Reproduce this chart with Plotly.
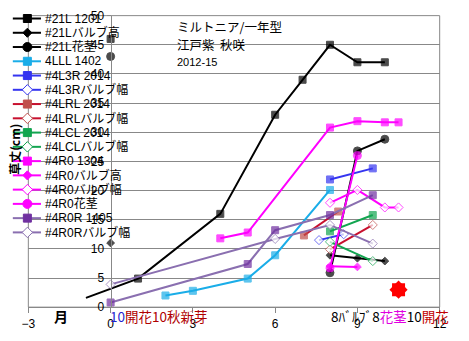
import plotly.graph_objects as go

# ---------------- data ----------------
x_21L_1201 = [0, None, -0.9, 1, 4, 6, 7, 8, 9, 10]
y_21L_1201 = [46, None, 1.6, 4.9, 16, 33, 39, 45, 42, 42]
x_21L_bulb_h = [0, None, 8, 9, 10]
y_21L_bulb_h = [11, None, 8.9, 8.4, 7.9]
x_21L_stem = [0, None, 8, 9, 10]
y_21L_stem = [43, None, 5.9, 26.8, 28.8]
x_4LLL_1402 = [2, 3, 5, 6, 8]
y_4LLL_1402 = [2.0, 2.8, 4.9, 8.9, 20.1]
x_4L3R_2014 = [8, 9.56]
y_4L3R_2014 = [21.9, 23.8]
x_4L3R_bulb_w = [7.6, 8.5]
y_4L3R_bulb_w = [11.5, 12.5]
x_4LRL_2014 = [7.05, 8.3]
y_4LRL_2014 = [12.3, 16.4]
x_4LRL_bulb_w = [8, 9.56]
y_4LRL_bulb_w = [9.9, 14.1]
x_4LCL_2014 = [8, 9.56]
y_4LCL_2014 = [13.0, 15.8]
x_4LCL_bulb_w = [8, 9.56]
y_4LCL_bulb_w = [11.2, 7.9]
x_4R0_1304 = [4, 5, 8, 9, 10, 10.5]
y_4R0_1304 = [11.8, 12.8, 30.8, 31.9, 31.7, 31.7]
x_4R0_bulb_h = [8, 9]
y_4R0_bulb_h = [7.0, 6.9]
x_4R0_bulb_w = [8, 9, 10, 10.5]
y_4R0_bulb_w = [17.9, 20.1, 17.1, 17.1]
x_4R0_stem = [8, 9]
y_4R0_stem = [6.7, 26.0]
x_4R0R_1405 = [0, 5, 6, 8, 9.56]
y_4R0R_1405 = [0.8, 7.4, 13.2, 15.8, 19.2]
x_4R0R_bulb_w = [0, 6, 8, 9.56]
y_4R0R_bulb_w = [3.9, 11.7, 14.1, 10.9]
x_flower = [10.5]
y_flower = [3.0]

x_ticks = [-3, 0, 3, 6, 9, 12]
y_ticks = [0, 5, 10, 15, 20, 25, 30, 35, 40, 45, 50]

names = ["#21L 1201", "#21Lバルブ高", "#21L花茎", "4LLL 1402", "#4L3R 2014",
         "#4L3Rバルブ幅", "#4LRL 2014", "#4LRLバルブ幅", "#4LCL 2014", "#4LCLバルブ幅",
         "#4R0 1304", "#4R0バルブ高", "#4R0バルブ幅", "#4R0花茎", "#4R0R 1405",
         "#4R0Rバルブ幅"]

# ---------------- styles ----------------
SQ = ("square", 7)
SD = ("diamond", 6)
CI = ("circle", 8)
OD = ("diamond", 7)
series = [
    (x_21L_1201, y_21L_1201, "#000000", "#000000", SQ, False),
    (x_21L_bulb_h, y_21L_bulb_h, "#000000", "#000000", SD, False),
    (x_21L_stem, y_21L_stem, "#000000", "#000000", CI, False),
    (x_4LLL_1402, y_4LLL_1402, "#1AADE8", "#1AADE8", SQ, False),
    (x_4L3R_2014, y_4L3R_2014, "#3535F0", "#3535F0", SQ, False),
    (x_4L3R_bulb_w, y_4L3R_bulb_w, "#3535F0", "#3535F0", OD, True),
    (x_4LRL_2014, y_4LRL_2014, "#C8102E", "#C0504D", SQ, False),
    (x_4LRL_bulb_w, y_4LRL_bulb_w, "#C8102E", "#C0504D", OD, True),
    (x_4LCL_2014, y_4LCL_2014, "#12A550", "#12A550", SQ, False),
    (x_4LCL_bulb_w, y_4LCL_bulb_w, "#12A550", "#12A550", OD, True),
    (x_4R0_1304, y_4R0_1304, "#FF00FF", "#FF00FF", SQ, False),
    (x_4R0_bulb_h, y_4R0_bulb_h, "#FF00FF", "#FF00FF", SD, False),
    (x_4R0_bulb_w, y_4R0_bulb_w, "#FF00FF", "#FF00FF", OD, True),
    (x_4R0_stem, y_4R0_stem, "#FF00FF", "#FF00FF", CI, False),
    (x_4R0R_1405, y_4R0R_1405, "#8A6FB0", "#7030A0", SQ, False),
    (x_4R0R_bulb_w, y_4R0R_bulb_w, "#8A6FB0", "#8A6FB0", OD, True),
]

W, H = 469, 341
PL, PR, PT, PB = 22, 446, 9, 313
GRID = "#888888"
FONT = "Liberation Sans, Noto Sans CJK JP, sans-serif"
CJK = "Noto Sans CJK JP, sans-serif"

fig = go.Figure()

for i, (xs, ys, lc, mc, (sym, sz), hollow) in enumerate(series):
    sizes = [sz] * len(xs)
    if i == 0:
        sizes[2] = 0  # unmarked start of the line
    fig.add_trace(go.Scatter(
        x=xs, y=ys, mode="lines+markers", showlegend=False,
        line=dict(color=lc, width=2),
        marker=dict(symbol=sym, size=sizes,
                    color="white" if hollow else mc,
                    line=dict(color=mc, width=1)),
        connectgaps=False, xaxis="x", yaxis="y", hoverinfo="skip"))

# flowering mark (8-pointed star from square + diamond)
for sym, sz in (("square", 13), ("diamond", 14), ("circle", 13)):
    fig.add_trace(go.Scatter(x=x_flower, y=y_flower, mode="markers", showlegend=False,
                             marker=dict(symbol=sym, size=sz, color="#FF0000",
                                         line=dict(width=0)),
                             xaxis="x", yaxis="y", hoverinfo="skip"))

# ---------------- custom legend (pixel overlay axes) ----------------
row0, step = 12, 14.87
annotations = []
for i, (xs, ys, lc, mc, (sym, sz), hollow) in enumerate(series):
    ry = row0 + i * step
    fig.add_trace(go.Scatter(x=[6, 35], y=[ry, ry], mode="lines", showlegend=False,
                             line=dict(color=lc, width=2), xaxis="x2", yaxis="y2",
                             hoverinfo="skip"))
    fig.add_trace(go.Scatter(x=[21], y=[ry], mode="markers", showlegend=False,
                             marker=dict(symbol=sym, size=sz + 1,
                                         color="white" if hollow else mc,
                                         line=dict(color=mc, width=1)),
                             xaxis="x2", yaxis="y2", hoverinfo="skip"))
    annotations.append(dict(x=37, y=ry, xref="x2", yref="y2", text=names[i],
                            showarrow=False, xanchor="left", yanchor="middle",
                            font=dict(size=12, color="#000000", family=FONT)))

# titles and labels
annotations += [
    dict(x=173, y=20, text="ミルトニア/一年型", font=dict(size=12.5, family=CJK)),
    dict(x=173, y=39, text="江戸紫  秋咲", font=dict(size=12.5, family=CJK)),
    dict(x=173, y=57, text="2012-15", font=dict(size=11, family=FONT)),
    dict(x=46, y=322, text="<b>月</b>", font=dict(size=14, family=CJK)),
    dict(x=104, y=322,
         text="<span style='color:#1F1FD0'>10</span><span style='color:#B00000'>開花10秋新芽</span>",
         font=dict(size=13.5, family=CJK)),
    dict(x=332, y=322,
         text="8ﾊﾞﾙﾌﾞ8<span style='color:#E000E0'>花茎</span>10<span style='color:#C00000'>開花</span>",
         font=dict(size=13.5, family=CJK)),
]
for a in annotations[-6:]:
    a.update(xref="x2", yref="y2", showarrow=False, xanchor="left", yanchor="middle")
    a["font"]["color"] = "#000000"
annotations.append(dict(x=8, y=148, xref="x2", yref="y2", text="<b>草丈(cm)</b>",
                        textangle=-90, showarrow=False, xanchor="center", yanchor="middle",
                        font=dict(size=12, family=CJK, color="#000000")))

ypos = (PL + 3 * (PR - PL) / 15) / W

fig.update_layout(
    width=W, height=H, autosize=False,
    margin=dict(l=0, r=0, t=0, b=0),
    paper_bgcolor="white", plot_bgcolor="rgba(0,0,0,0)",
    font=dict(family=FONT, size=12, color="#000000"),
    xaxis=dict(domain=[PL / W, PR / W], range=[-3, 12], tickvals=x_ticks,
               showgrid=False, zeroline=False, showline=True, linecolor=GRID,
               ticks="outside", ticklen=5, tickcolor=GRID, anchor="y",
               tickfont=dict(size=12, family=FONT)),
    yaxis=dict(domain=[1 - PB / H, 1 - PT / H], range=[0, 50], tickvals=y_ticks,
               showgrid=True, gridcolor=GRID, gridwidth=1, zeroline=False,
               showline=True, linecolor=GRID, ticks="outside", ticklen=4, tickcolor=GRID,
               anchor="free", position=ypos, tickfont=dict(size=12, family=FONT)),
    xaxis2=dict(domain=[0, 1], range=[0, W], visible=False, anchor="y2", fixedrange=True),
    yaxis2=dict(domain=[0, 1], range=[H, 0], visible=False, anchor="x2", fixedrange=True),
    shapes=[dict(type="rect", xref="x domain", yref="y domain", x0=0, x1=1, y0=0, y1=1,
                 line=dict(color=GRID, width=1), layer="below")],
    annotations=annotations,
)

fig.write_html("out.html")
